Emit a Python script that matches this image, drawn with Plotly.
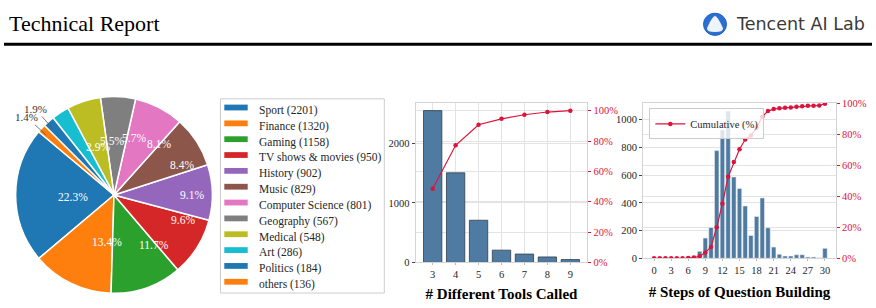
import math
import plotly.graph_objects as go

W, H = 876, 308

# ---------------- data ----------------
topic_labels = ["Sport", "Finance", "Gaming", "TV shows & movies", "History", "Music",
                "Computer Science", "Geography", "Medical", "Art", "Politics", "others"]
topic_counts = [2201, 1320, 1158, 950, 902, 829, 801, 567, 548, 286, 184, 136]
topic_colors = ["#1f77b4", "#ff7f0e", "#2ca02c", "#d62728", "#9467bd", "#8c564b",
                "#e377c2", "#7f7f7f", "#bcbd22", "#17becf", "#1f77b4", "#ff7f0e"]

tools_x = [3, 4, 5, 6, 7, 8, 9]
tools_counts = [2553, 1507, 710, 207, 141, 93, 49]
tools_cum = [48.5, 77.2, 90.7, 94.6, 97.3, 99.1, 100.0]

steps_x = list(range(0, 31))
steps_counts = [0, 0, 0, 0, 0, 0, 14, 14, 51, 146, 223, 777, 928, 1063, 587, 504, 378,
                165, 302, 436, 221, 81, 30, 17, 17, 26, 26, 10, 10, 5, 72]
steps_cum = [0, 0, 0, 0, 0, 0, 0.2, 0.5, 1.3, 3.7, 7.3, 20.1, 35.3, 52.7, 62.3, 70.6,
             76.8, 79.5, 84.4, 91.6, 95.2, 96.5, 97.0, 97.3, 97.6, 98.0, 98.4, 98.6,
             98.7, 98.8, 100.0]

pct_ticks = [0, 20, 40, 60, 80, 100]
pct_text = [f"{v}%" for v in pct_ticks]

# ---------------- style ----------------
SERIF = "Liberation Serif, Times New Roman, serif"
BAR = "#4f7ba2"
CRIMSON = "#dc143c"
GRID = "#e3e3e3"
SPINE = "#d4d4d4"
TICKFONT = dict(family=SERIF, size=10.5, color="#262626")


def px(x):
    return x / W


def py(y):
    return 1 - y / H


fig = go.Figure()

# ---------------- pie ----------------
CX, CY, R = 114, 197, 102
START = 140  # start angle of first slice (deg, ccw from 3 o'clock)
total = sum(topic_counts)
first_span = 360.0 * topic_counts[0] / total
# plotly (counterclockwise): first slice ends at `rotation` (clockwise from 12 o'clock)
pie_rotation = 90 - (START + first_span)

fig.add_trace(go.Pie(
    values=topic_counts, labels=topic_labels, sort=False,
    direction="counterclockwise", rotation=pie_rotation,
    marker=dict(colors=topic_colors, line=dict(color="white", width=1.5)),
    textinfo="none", showlegend=False,
    domain=dict(x=[px(CX - R), px(CX + R)], y=[py(CY + R), py(CY - R)]),
))

annotations = []
shapes = []
cum = 0.0
for i, v in enumerate(topic_counts):
    frac = v / total
    mid = math.radians(START + (cum + frac / 2) * 360)
    cum += frac
    label = f"{100 * frac:.1f}%"
    if i < 10:
        lx = CX + 0.6 * R * math.cos(mid) + 3
        ly = CY - 0.6 * R * math.sin(mid) + 2
        annotations.append(dict(x=px(lx), y=py(ly), xref="paper", yref="paper",
                                text=label, showarrow=False,
                                font=dict(family=SERIF, size=11.5, color="white")))
    else:
        tx = CX + 1.16 * R * math.cos(mid)
        ty = CY - 1.16 * R * math.sin(mid)
        ax_ = CX + 0.9 * R * math.cos(mid)
        ay_ = CY - 0.9 * R * math.sin(mid)
        annotations.append(dict(x=px(ax_), y=py(ay_), xref="paper", yref="paper",
                                ax=tx - ax_, ay=ty - ay_, axref="pixel", ayref="pixel",
                                text=label, showarrow=True, arrowhead=0,
                                arrowwidth=0.8, arrowcolor="#555555",
                                font=dict(family=SERIF, size=11, color="#333333")))

# ---------------- pie legend (drawn) ----------------
LX0, LX1, LY0, LY1 = 220.5, 384.3, 97.3, 298.7
shapes.append(dict(type="rect", xref="paper", yref="paper",
                   x0=px(LX0), x1=px(LX1), y0=py(LY1), y1=py(LY0),
                   line=dict(color="#cccccc", width=1), fillcolor="white", layer="below"))
ROW0, DROW = 106.3, 16.43
for i, (lab, cnt, col) in enumerate(zip(topic_labels, topic_counts, topic_colors)):
    yc = ROW0 + i * DROW
    shapes.append(dict(type="rect", xref="paper", yref="paper",
                       x0=px(224.3), x1=px(247.7), y0=py(yc + 3), y1=py(yc - 3),
                       line=dict(width=0), fillcolor=col))
    annotations.append(dict(x=px(256.5), y=py(yc + 3), xref="paper", yref="paper",
                            xanchor="left", yanchor="middle", showarrow=False,
                            text=f"{lab} ({cnt})",
                            font=dict(family=SERIF, size=11.5, color="#262626")))

# ---------------- middle chart ----------------
fig.add_trace(go.Bar(x=tools_x, y=tools_counts, xaxis="x", yaxis="y", width=0.8,
                     marker=dict(color=BAR, line=dict(color="#2e3d4d", width=0.8)),
                     showlegend=False))
fig.add_trace(go.Scatter(x=tools_x, y=tools_cum, xaxis="x", yaxis="y2",
                         mode="lines+markers", line=dict(color=CRIMSON, width=1.2),
                         marker=dict(size=4.5, color=CRIMSON), showlegend=False))

# ---------------- right chart ----------------
fig.add_trace(go.Bar(x=steps_x, y=steps_counts, xaxis="x3", yaxis="y3", width=0.8,
                     marker=dict(color=BAR, line=dict(color="#f2f2f2", width=0.6)),
                     showlegend=False))
fig.add_trace(go.Scatter(x=steps_x, y=steps_cum, xaxis="x3", yaxis="y4",
                         name="Cumulative (%)", mode="lines+markers",
                         line=dict(color=CRIMSON, width=1.2),
                         marker=dict(size=4.5, color=CRIMSON), showlegend=True))

title_font = dict(family=SERIF, size=15, color="black", weight="bold")

common_x = dict(showline=True, linecolor=SPINE, linewidth=1, mirror=True,
                ticks="outside", ticklen=2, tickcolor="#bbbbbb", tickfont=TICKFONT,
                zeroline=False, fixedrange=True)
common_y = dict(showline=True, linecolor=SPINE, linewidth=1, mirror=True,
                ticks="outside", ticklen=3, tickcolor="#444444", tickfont=TICKFONT,
                zeroline=False, gridcolor=GRID, gridwidth=1, showgrid=True)
pct_axis = dict(side="right", tickvals=pct_ticks, ticktext=pct_text, showgrid=True,
                gridcolor=GRID, ticks="outside", ticklen=3, tickcolor=CRIMSON,
                zeroline=False, showline=False,
                tickfont=dict(family=SERIF, size=10.5, color=CRIMSON))

fig.update_layout(
    width=W, height=H, margin=dict(l=0, r=0, t=0, b=0),
    paper_bgcolor="white", plot_bgcolor="rgba(0,0,0,0)",
    xaxis=dict(domain=[px(415.7), px(587.3)], range=[2.26, 9.74], anchor="y",
               tickvals=tools_x, showgrid=True, gridcolor=GRID,
               title=dict(text="# Different Tools Called", font=title_font, standoff=9),
               **common_x),
    yaxis=dict(domain=[py(267), py(101.7)], range=[0, 2680], anchor="x",
               tickvals=[0, 1000, 2000], **common_y),
    yaxis2=dict(overlaying="y", anchor="x", range=[0, 105], **pct_axis),
    xaxis3=dict(domain=[px(643), px(836)], range=[-1.94, 31.94], anchor="y3",
                tickvals=list(range(0, 31, 3)), showgrid=False,
                title=dict(text="# Steps of Question Building", font=title_font, standoff=11),
                **common_x),
    yaxis3=dict(domain=[py(262.7), py(101.7)], range=[0, 1120], anchor="x3",
                tickvals=[0, 200, 400, 600, 800, 1000], **common_y),
    yaxis4=dict(overlaying="y3", anchor="x3", range=[0, 100.4], **pct_axis),
    legend=dict(x=px(649.3), y=py(107.3), xanchor="left", yanchor="top",
                bgcolor="rgba(255,255,255,0.8)", bordercolor="#cccccc", borderwidth=1,
                font=dict(family=SERIF, size=10.5, color="#262626"),
                itemwidth=30, tracegroupgap=0),
)

# ---------------- header ----------------
annotations.append(dict(x=px(7), y=py(19.5), xref="paper", yref="paper", xanchor="left",
                        yanchor="middle", showarrow=False, text="Technical Report",
                        font=dict(family=SERIF, size=22, color="black")))
annotations.append(dict(x=px(734), y=py(19.5), xref="paper", yref="paper", xanchor="left",
                        yanchor="middle", showarrow=False, text="Tencent AI Lab",
                        font=dict(family="DejaVu Sans, sans-serif", size=17.5,
                                  color="#3a3a3a")))
shapes.append(dict(type="circle", xref="paper", yref="paper",
                   x0=px(703.5), x1=px(726.5), y0=py(31.5), y1=py(8.5),
                   line=dict(color="#1d5fc4", width=1), fillcolor="#2a6fd2"))
tri = (f"M {px(715)},{py(11.5)} Q {px(717.5)},{py(11.5)} {px(723)},{py(24)} "
       f"Q {px(723)},{py(28)} {px(715)},{py(28)} Q {px(707)},{py(28)} {px(707)},{py(24)} "
       f"Q {px(712.5)},{py(11.5)} {px(715)},{py(11.5)} Z")
shapes.append(dict(type="path", xref="paper", yref="paper", path=tri,
                   line=dict(width=0), fillcolor="#eef4fc"))
shapes.append(dict(type="line", xref="paper", yref="paper",
                   x0=px(4), x1=px(872), y0=py(40.8), y1=py(40.8),
                   line=dict(color="black", width=3)))

fig.update_layout(annotations=annotations, shapes=shapes)

fig.write_html("out.html")
